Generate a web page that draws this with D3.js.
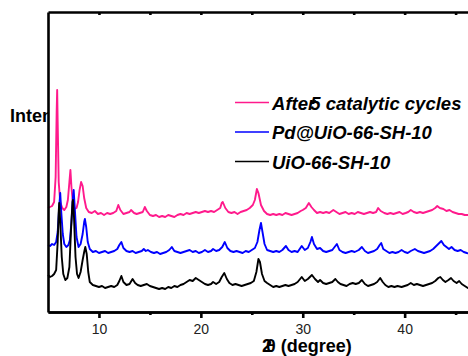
<!DOCTYPE html>
<html>
<head>
<meta charset="utf-8">
<script src="https://cdn.jsdelivr.net/npm/d3@7"></script>
<style>
  html, body { margin: 0; padding: 0; background: #fff; }
  svg { display: block; font-family: "Liberation Sans", Arial, sans-serif; }
</style>
</head>
<body>
<div id="chart"></div>
<script>
// series names (legend order, top to bottom)
const seriesNames = ["After5 catalytic cycles", "Pd@UiO-66-SH-10", "UiO-66-SH-10"];
const xTicks = [10, 20, 30, 40];
const xMinorTicks = [15, 25, 35, 45];

// [2theta, intensity (a.u., offset stacked)]
const afterCycles = [
  [5.0,104],[5.2,105],[5.4,106],[5.6,110],[5.75,135],[5.85,200],[5.9,222],[5.95,190],[6.05,130],[6.2,110],
  [6.4,104],[6.6,102],[6.8,105],[6.95,112],[7.1,130],[7.2,142],[7.3,125],[7.45,108],[7.6,103],[7.8,104],
  [7.95,110],[8.1,122],[8.25,130],[8.4,126],[8.55,114],[8.75,104],[9.0,100],[9.3,99],[9.6,101],[9.9,98],
  [10.2,99],[10.5,97],[10.8,99],[11.1,98],[11.4,99],[11.7,101],[11.9,107],[12.1,102],[12.4,98],[12.7,99],
  [13.0,100],[13.15,102],[13.45,99],[13.7,98],[14.0,99],[14.3,100],[14.5,105],[14.7,101],[15.0,97],[15.3,96],
  [15.6,97],[15.9,95],[16.2,96],[16.5,95],[16.8,97],[17.1,96],[17.4,95],[17.7,97],[18.0,98],[18.3,97],
  [18.6,99],[18.9,98],[19.2,99],[19.5,100],[19.8,99],[20.1,100],[20.4,101],[20.7,100],[21.0,101],[21.3,100],
  [21.6,102],[21.9,104],[22.05,109],[22.15,110],[22.4,104],[22.7,100],[23.0,99],[23.3,100],[23.6,98],[23.9,100],
  [24.2,101],[24.5,102],[24.8,104],[25.1,107],[25.3,112],[25.5,123],[25.65,119],[25.9,107],[26.2,101],[26.5,98],
  [26.8,97],[27.1,98],[27.4,97],[27.7,98],[28.0,97],[28.3,99],[28.6,98],[28.9,97],[29.2,98],[29.5,99],
  [29.8,101],[30.0,102],[30.3,104],[30.6,109],[30.85,105],[31.1,102],[31.4,99],[31.7,100],[32.0,99],[32.3,100],
  [32.6,99],[33.0,102],[33.3,100],[33.6,98],[33.9,99],[34.2,100],[34.5,98],[34.8,99],[35.1,98],[35.4,100],
  [35.7,99],[36.0,98],[36.3,99],[36.6,100],[36.9,99],[37.2,100],[37.4,104],[37.65,101],[38.0,99],[38.3,98],
  [38.6,99],[38.9,98],[39.2,99],[39.5,100],[39.8,98],[40.1,99],[40.35,100],[40.6,102],[40.9,100],[41.2,99],
  [41.5,100],[41.8,99],[42.1,100],[42.4,101],[42.7,102],[43.0,104],[43.2,106],[43.45,104],[43.8,103],[44.1,101],
  [44.4,102],[44.7,100],[45.0,99],[45.3,98],[45.6,98],[45.9,97],[46.2,97],[46.5,96]
];

const pdUiO = [
  [5.0,67],[5.2,66],[5.4,68],[5.6,67],[5.8,70],[5.95,80],[6.1,105],[6.2,119],[6.3,100],[6.45,78],
  [6.6,68],[6.8,65],[7.0,67],[7.15,72],[7.3,90],[7.45,115],[7.52,122],[7.62,105],[7.8,75],[8.0,65],
  [8.2,68],[8.4,78],[8.55,90],[8.62,93],[8.75,85],[8.9,70],[9.1,63],[9.4,60],[9.7,61],[10.0,59],
  [10.3,60],[10.6,61],[10.9,59],[11.2,60],[11.5,61],[11.8,63],[12.0,67],[12.2,70],[12.4,64],[12.7,61],
  [13.0,60],[13.3,61],[13.6,59],[13.9,60],[14.2,61],[14.4,63],[14.6,61],[14.8,62],[15.1,60],[15.4,59],
  [15.7,60],[16.0,58],[16.3,59],[16.6,60],[16.9,62],[17.15,65],[17.4,61],[17.7,60],[18.0,59],[18.3,60],
  [18.6,61],[18.9,62],[19.2,60],[19.5,61],[19.8,59],[20.1,60],[20.4,62],[20.7,60],[21.0,61],[21.2,63],
  [21.5,61],[21.8,62],[22.1,65],[22.35,70],[22.6,64],[22.9,61],[23.2,60],[23.5,61],[23.8,60],[24.1,59],
  [24.4,61],[24.7,60],[25.0,62],[25.3,64],[25.55,70],[25.75,82],[25.9,89],[26.05,80],[26.25,68],[26.5,62],
  [26.8,61],[27.1,60],[27.4,61],[27.7,60],[28.0,62],[28.35,66],[28.6,62],[28.9,60],[29.2,61],[29.5,60],
  [29.9,66],[30.2,62],[30.5,64],[30.75,70],[30.9,75],[31.1,68],[31.4,63],[31.7,64],[32.0,61],[32.3,60],
  [32.6,61],[32.9,62],[33.2,66],[33.35,68],[33.6,62],[33.9,60],[34.2,59],[34.5,60],[34.8,61],[35.1,60],
  [35.5,62],[35.8,65],[36.1,61],[36.4,59],[36.7,60],[37.0,61],[37.3,63],[37.55,67],[37.7,69],[37.9,63],
  [38.2,61],[38.5,59],[38.8,60],[39.1,59],[39.4,60],[39.7,62],[40.0,60],[40.3,59],[40.6,61],[41.0,63],
  [41.3,61],[41.6,60],[41.9,59],[42.2,60],[42.5,61],[42.8,63],[43.1,66],[43.4,69],[43.6,71],[43.85,67],
  [44.1,65],[44.35,63],[44.6,65],[44.9,62],[45.2,61],[45.5,62],[45.8,60],[46.1,59],[46.5,58]
];

const uiO = [
  [5.0,37],[5.2,35],[5.4,36],[5.6,38],[5.8,42],[5.95,70],[6.05,100],[6.1,109],[6.2,90],[6.35,55],
  [6.5,38],[6.7,32],[6.9,34],[7.1,45],[7.25,80],[7.4,110],[7.45,112],[7.55,95],[7.7,55],[7.85,38],
  [8.0,34],[8.2,40],[8.4,52],[8.55,60],[8.66,65],[8.8,58],[8.95,40],[9.1,30],[9.4,27],[9.7,26],
  [10.0,25],[10.3,26],[10.6,24],[10.9,25],[11.2,26],[11.5,25],[11.8,27],[12.0,31],[12.2,36],[12.4,30],
  [12.7,27],[13.0,28],[13.3,33],[13.55,29],[13.8,27],[14.1,26],[14.4,27],[14.7,28],[15.0,26],[15.3,25],
  [15.6,24],[15.9,23],[16.2,24],[16.5,23],[16.8,25],[17.1,24],[17.4,26],[17.7,25],[18.0,27],[18.3,28],
  [18.6,30],[18.9,32],[19.2,31],[19.5,34],[19.8,32],[20.1,30],[20.4,28],[20.7,27],[21.0,28],[21.2,30],
  [21.5,28],[21.8,30],[22.05,35],[22.3,39],[22.55,33],[22.8,29],[23.1,27],[23.4,28],[23.7,27],[24.0,26],
  [24.3,27],[24.6,28],[24.9,29],[25.2,31],[25.45,40],[25.65,53],[25.8,50],[26.0,38],[26.25,31],[26.5,29],
  [26.8,27],[27.1,25],[27.4,26],[27.7,25],[28.0,26],[28.3,27],[28.6,26],[28.9,27],[29.2,28],[29.5,30],
  [29.9,35],[30.2,31],[30.5,33],[30.9,37],[31.2,33],[31.5,30],[31.7,32],[32.0,29],[32.3,28],[32.6,29],
  [32.9,30],[33.2,33],[33.45,30],[33.7,28],[34.0,27],[34.3,26],[34.6,28],[34.9,29],[35.2,28],[35.5,29],
  [35.8,32],[36.1,28],[36.4,26],[36.7,27],[37.0,28],[37.3,30],[37.6,34],[37.85,30],[38.1,27],[38.4,25],
  [38.7,26],[39.0,25],[39.3,26],[39.7,25],[40.0,26],[40.3,27],[40.6,29],[40.9,27],[41.2,28],[41.5,27],
  [41.8,26],[42.1,27],[42.4,28],[42.7,29],[43.0,31],[43.3,34],[43.5,35],[43.75,32],[44.0,30],[44.3,32],
  [44.55,34],[44.8,31],[45.1,29],[45.35,31],[45.6,28],[45.9,26],[46.2,24],[46.5,25]
];

const seriesData = [afterCycles, pdUiO, uiO];
const colors = ["#ff1a8c", "#0000ff", "#000000"];

const W = 468, H = 356;
const marginLeft = 48, plotTop = 12, plotBottom = 312;

const svg = d3.select("#chart").append("svg")
  .attr("width", W)
  .attr("height", H);

// y label, partly hidden behind the plot area like the original
svg.append("text")
  .attr("x", 10)
  .attr("y", 122)
  .style("font-size", "18px")
  .style("font-weight", "bold")
  .attr("fill", "#000")
  .text("Intensity (a.u.)");

svg.append("rect")
  .attr("x", marginLeft)
  .attr("y", 0)
  .attr("width", W - marginLeft)
  .attr("height", H)
  .attr("fill", "#fff");

const x = d3.scaleLinear().domain([5, 50]).range([marginLeft, marginLeft + 45 * 10.19]);
const y = d3.scaleLinear().domain([0, 300]).range([plotBottom, plotTop]);

const line = d3.line()
  .x(d => x(d[0]))
  .y(d => y(d[1]));

svg.selectAll(".trace")
  .data(seriesData)
  .enter()
  .append("path")
  .attr("class", "trace")
  .attr("d", line)
  .attr("fill", "none")
  .attr("stroke", (d, i) => colors[i])
  .attr("stroke-width", 1.9)
  .attr("stroke-linejoin", "round");

// axes
const bottomAxis = svg.append("g")
  .attr("transform", "translate(0," + plotBottom + ")")
  .call(d3.axisBottom(x).tickValues(xTicks).tickSize(6).tickSizeOuter(0).tickPadding(6));
bottomAxis.selectAll("text")
  .style("font-size", "14px")
  .attr("fill", "#222");

svg.append("g")
  .attr("transform", "translate(0," + plotBottom + ")")
  .call(d3.axisBottom(x).tickValues(xMinorTicks).tickSize(3).tickSizeOuter(0).tickFormat(""));

svg.append("g")
  .attr("transform", "translate(0," + plotTop + ")")
  .call(d3.axisBottom(x).tickValues(xTicks.concat(xMinorTicks)).tickSize(3).tickSizeOuter(0).tickFormat(""));

svg.append("g")
  .attr("transform", "translate(" + marginLeft + ",0)")
  .call(d3.axisLeft(y).tickValues([]).tickSizeOuter(0));

svg.selectAll(".domain, .tick line")
  .attr("stroke", "#000")
  .attr("stroke-width", 2.6);

// x label ("2" and "θ" sit on top of each other in the original)
svg.append("text")
  .attr("x", 262)
  .attr("y", 352)
  .attr("dx", "0 -6")
  .style("font-size", "18px")
  .style("font-weight", "bold")
  .attr("fill", "#000")
  .text("2θ (degree)");

// legend
const legend = svg.append("g");
seriesNames.forEach((name, i) => {
  const ly = 102.5 + i * 29.5;
  legend.append("line")
    .attr("x1", 235).attr("x2", 269)
    .attr("y1", ly).attr("y2", ly)
    .attr("stroke", colors[i])
    .attr("stroke-width", 1.5);
  legend.append("text")
    .attr("x", 272)
    .attr("y", ly + 7)
    .attr("dx", i === 0 ? "0 0 0 0 0 -5" : null)
    .style("font-size", "18.5px")
    .style("font-weight", "bold")
    .style("font-style", "italic")
    .attr("fill", "#000")
    .text(name);
});
</script>
</body>
</html>
